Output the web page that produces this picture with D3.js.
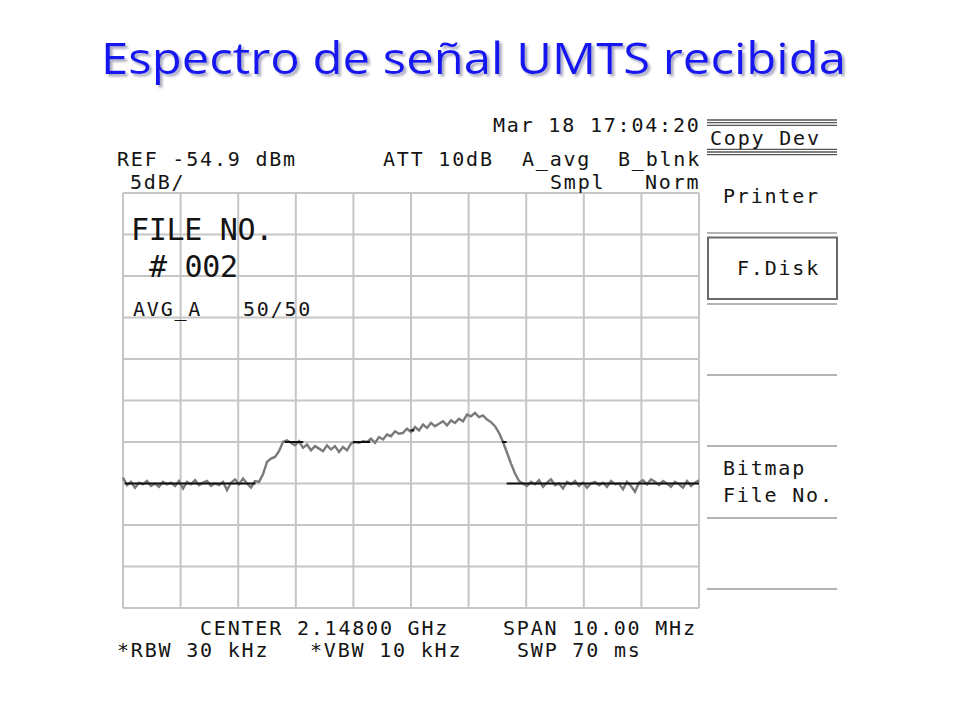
<!DOCTYPE html>
<html><head><meta charset="utf-8">
<script src="https://cdn.jsdelivr.net/npm/d3@7"></script>
<style>html,body{margin:0;padding:0;background:#fff;} svg{display:block}</style>
</head><body><svg id="c" width="960" height="720"></svg>
<script>
// ---------- DATA ----------
const titleText = "Espectro de señal UMTS recibida";
const refLevelDbm = -54.9;
const dbPerDiv = 5;
const numDivs = 10;
const centerGHz = 2.148;
const spanMHz = 10;
const attDb = 10;
const rbwKHz = 30, vbwKHz = 10, sweepMs = 70;
const dateStamp = "Mar 18 17:04:20";
const fileNo = "002";
const avgCount = "50/50";

// gray (sample) trace, dBm, equally spaced sweep points across the span
const traceDbm = [
 -89.2,
 -90.1,-89.7,-90.4,-89.8,-90.0,-89.6,-90.2,-89.9,-90.3,-89.7,-90.0,-89.8,-90.2,-89.6,-90.5,-89.7,
 -90.0,-89.5,-90.1,-89.8,-89.6,-90.2,-89.9,-90.1,-89.7,-90.7,-89.8,-89.4,-90.0,-89.3,-89.9,-90.4,-89.6,
 -89.7,-88.8,-87.3,-86.9,-86.7,-86.0,-84.9,-84.7,
 -85.0,-85.3,-84.8,-85.6,-85.2,-85.9,-85.4,-85.7,-86.0,-85.3,-85.8,-85.4,-86.1,-85.5,-85.9,
 -85.1,-84.9,-85.0,-84.8,-84.9,-84.5,-85.0,-84.3,-84.6,-84.0,-84.2,-83.6,-83.9,
 -83.8,-83.3,-83.7,-83.1,-83.5,-82.8,-83.2,-82.6,-83.0,-82.7,-82.4,-82.9,-82.3,-82.6,-82.1,-82.4,-81.6,
 -81.8,-81.4,-81.9,-81.7,-82.2,-82.5,-83.0,-83.8,-84.9,-86.2,-87.5,-88.7,-89.6,-89.9,
 -90.2,-89.7,-90.0,-89.5,-90.3,-89.8,-89.4,-90.1,-89.9,-90.5,-89.7,-90.0,-89.6,-90.2,-89.8,-90.4,
 -89.9,-89.7,-90.1,-89.8,-90.3,-89.6,-90.0,-89.9,-90.6,-89.7,-90.2,-90.9,-89.8,-89.5,-90.0,-89.4,
 -89.7,-90.1,-89.6,-89.9,-90.3,-89.7,-90.0,-90.4,-89.6,-90.2,-89.8,-89.5
];

// black (average) trace pieces visible over the gray one
const avgStartMHz = [2143.03, 2145.81, 2146.99, 2147.99, 2149.58, 2149.66];
const avgEndMHz   = [2145.30, 2146.13, 2147.29, 2148.06, 2149.66, 2153.00];
const avgLevelDbm = [-89.9,   -84.9,   -84.9,   -83.5,   -84.9,   -89.9];

const softkeys = ["Copy Dev", "Printer", "F.Disk", "", "", "Bitmap|File No.", ""];

// ---------- LAYOUT ----------
const svg = d3.select("#c");
const plot = {left: 123, right: 699, top: 193, bottom: 608};
const startMHz = centerGHz * 1000 - spanMHz / 2;
const stopMHz = centerGHz * 1000 + spanMHz / 2;
const bottomDbm = refLevelDbm - dbPerDiv * numDivs;

const x = d3.scaleLinear().domain([startMHz, stopMHz]).range([plot.left, plot.right]);
const y = d3.scaleLinear().domain([bottomDbm, refLevelDbm]).range([plot.bottom, plot.top]);

const gridFreqs = d3.range(numDivs + 1).map(i => startMHz + i * spanMHz / numDivs);
const gridLevels = d3.range(numDivs + 1).map(i => refLevelDbm - i * dbPerDiv);

const gridColor = "#c6c6c6";
const mono = "'DejaVu Sans Mono', 'Liberation Mono', monospace";

// title with drop shadow
const defs = svg.append("defs");
const f = defs.append("filter").attr("id", "sh").attr("x", "-5%").attr("y", "-20%")
  .attr("width", "110%").attr("height", "150%");
f.append("feDropShadow").attr("dx", 2.5).attr("dy", 2.5).attr("stdDeviation", 0.8)
  .attr("flood-color", "#8a8aa8").attr("flood-opacity", 0.75);
svg.append("text").attr("x", 101).attr("y", 74)
  .attr("font-family", "'Open Sans', 'Noto Sans', sans-serif")
  .attr("font-size", 44)
  .attr("textLength", 745).attr("lengthAdjust", "spacingAndGlyphs")
  .attr("fill", "#1818f0").attr("filter", "url(#sh)")
  .text(titleText);

// grid
const grid = svg.append("g").attr("stroke", gridColor).attr("stroke-width", 2);
grid.selectAll("line.v").data(gridFreqs).join("line").attr("class", "v")
  .attr("x1", d => x(d)).attr("x2", d => x(d))
  .attr("y1", plot.top).attr("y2", plot.bottom);
grid.selectAll("line.h").data(gridLevels).join("line").attr("class", "h")
  .attr("x1", plot.left).attr("x2", plot.right)
  .attr("y1", d => y(d)).attr("y2", d => y(d));

// text helper
function t(xp, yp, str, size = 20, ls = 1.8, anchor = "start") {
  return svg.append("text").attr("x", xp).attr("y", yp)
    .attr("font-family", mono).attr("font-size", size)
    .attr("letter-spacing", ls).attr("fill", "#141414")
    .attr("text-anchor", anchor).text(str);
}

// header texts
t(493, 132, dateStamp);
t(117, 166, `REF ${refLevelDbm.toFixed(1)} dBm`);
t(383, 166, `ATT ${attDb}dB`);
t(522, 166, "A_avg");
t(618, 166, "B_blnk");
t(130, 189, `${dbPerDiv}dB/`);
t(550, 189, "Smpl");
t(645, 189, "Norm");

// big file number
t(131, 240, "FILE NO.", 30, -0.3);
t(149, 277, `# ${fileNo}`, 30, -0.3);
t(133, 316, "AVG_A");
t(243, 316, avgCount);

// traces
const n = traceDbm.length;
const freqOf = i => startMHz + i * spanMHz / (n - 1);
const line = d3.line().x((d, i) => x(freqOf(i))).y(d => y(d));
svg.append("path").datum(traceDbm).attr("d", line)
  .attr("fill", "none").attr("stroke", "#7a7a7a").attr("stroke-width", 2.4)
  .attr("stroke-linejoin", "miter");

const avgData = avgStartMHz.map((s, i) => ({s, e: avgEndMHz[i], v: avgLevelDbm[i]}));
svg.append("g").selectAll("line").data(avgData).join("line")
  .attr("x1", d => x(d.s)).attr("x2", d => x(d.e))
  .attr("y1", d => y(d.v)).attr("y2", d => y(d.v))
  .attr("stroke", "#111").attr("stroke-width", 2);

// bottom texts
t(200, 635, `CENTER ${centerGHz.toFixed(5)} GHz`);
t(503, 635, `SPAN ${spanMHz.toFixed(2)} MHz`);
t(117, 657, `*RBW ${rbwKHz} kHz`);
t(310, 657, `*VBW ${vbwKHz} kHz`);
t(517, 657, `SWP ${sweepMs} ms`);

// softkey panel
const sk = svg.append("g");
const pL = 707, pR = 837, sepColor = "#b4b4b4";
function hl(yy, col = sepColor, w = 2) {
  sk.append("line").attr("x1", pL).attr("x2", pR).attr("y1", yy).attr("y2", yy)
    .attr("stroke", col).attr("stroke-width", w);
}
[120, 122.7, 125.4, 149.3, 152, 154.7].forEach(v => hl(v, "#555", 1.3));
[233, 304, 375, 446, 518, 589].forEach(v => hl(v));
sk.append("rect").attr("x", 708).attr("y", 237.5).attr("width", 129).attr("height", 61.5)
  .attr("fill", "none").attr("stroke", "#6a6a6a").attr("stroke-width", 2);

const skPos = [[710, 145], [723, 203], [737, 275], null, null, [723, 475], null];
softkeys.forEach((lab, i) => {
  if (!lab || !skPos[i]) return;
  lab.split("|").forEach((part, j) => t(skPos[i][0], skPos[i][1] + j * 27, part));
});
</script></body></html>
